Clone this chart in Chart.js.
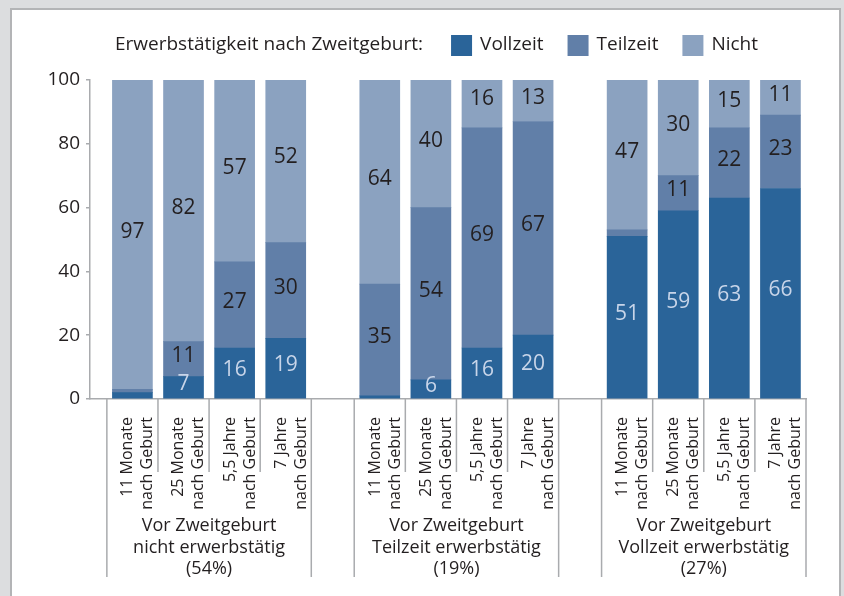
<!DOCTYPE html>
<html>
<head>
<meta charset="utf-8">
<script src="https://cdn.jsdelivr.net/npm/chart.js@4"></script>
<style>
  html, body { margin: 0; padding: 0; overflow: hidden; background: #dcdddf; }
  #wrap { width: 844px; height: 596px; position: relative; }
</style>
</head>
<body>
<div id="wrap"><canvas id="myChart"></canvas></div>
<script>
// Erwerbstätigkeit nach Zweitgeburt (in %)
const legendTitle = 'Erwerbstätigkeit nach Zweitgeburt:';
const seriesNames = ['Vollzeit', 'Teilzeit', 'Nicht'];
const tickLabels = [
    ['11 Monate', 'nach Geburt'],
    ['25 Monate', 'nach Geburt'],
    ['5,5 Jahre', 'nach Geburt'],
    ['7 Jahre', 'nach Geburt']
];
const groupLabels = [
    ['Vor Zweitgeburt', 'nicht erwerbstätig', '(54%)'],
    ['Vor Zweitgeburt', 'Teilzeit erwerbstätig', '(19%)'],
    ['Vor Zweitgeburt', 'Vollzeit erwerbstätig', '(27%)']
];
const vollzeit = [2, 7, 16, 19, 1, 6, 16, 20, 51, 59, 63, 66];
const teilzeit = [1, 11, 27, 30, 35, 54, 69, 67, 2, 11, 22, 23];
const nicht = [97, 82, 57, 52, 64, 40, 16, 13, 47, 30, 15, 11];
const yTicks = [0, 20, 40, 60, 80, 100];

const colors = ['#2a6499', '#617fa8', '#8ba2c0'];
const axisColor = '#a9abae';
const textColor = '#231f20';

// bar slots: 4 per group, groups spaced a bit wider than 4 slots
const GROUP_STEP = 4.84;
const LABEL_SHIFT = 0.09; // centres the two rotated label lines under the bar
const barX = [];
groupLabels.forEach((g, gi) => tickLabels.forEach((t, i) => barX.push(gi * GROUP_STEP + i)));

const toPoints = (arr) => arr.map((v, i) => ({ x: barX[i], y: v }));

Chart.defaults.font.family = "'Open Sans', sans-serif";
Chart.defaults.color = textColor;

const framePlugin = {
    id: 'frame',
    beforeDraw(chart) {
        const ctx = chart.ctx;
        ctx.save();
        ctx.fillStyle = '#dcdddf';
        ctx.fillRect(0, 0, chart.width, chart.height);
        ctx.fillStyle = '#ffffff';
        ctx.fillRect(10, 8, 831, chart.height);
        ctx.strokeStyle = '#b3b4b6';
        ctx.lineWidth = 2;
        ctx.beginPath();
        ctx.moveTo(11, chart.height);
        ctx.lineTo(11, 9);
        ctx.lineTo(840, 9);
        ctx.lineTo(840, chart.height);
        ctx.stroke();
        ctx.restore();
    }
};

const labelPlugin = {
    id: 'segLabels',
    afterDatasetsDraw(chart) {
        const ctx = chart.ctx;
        ctx.save();
        ctx.font = "21px 'Open Sans'";
        ctx.textAlign = 'center';
        ctx.textBaseline = 'middle';
        chart.data.datasets.forEach((ds, di) => {
            const meta = chart.getDatasetMeta(di);
            meta.data.forEach((bar, i) => {
                const v = ds.data[i].y;
                if (v < 5) return; // too small to label
                ctx.fillStyle = di === 0 ? '#c8d5e9' : textColor;
                ctx.fillText(String(v), bar.x, (bar.y + bar.base) / 2 - 3);
            });
        });
        ctx.restore();
    }
};

const groupPlugin = {
    id: 'groups',
    afterDraw(chart) {
        const ctx = chart.ctx;
        const x = chart.scales.x;
        const base = chart.chartArea.bottom;
        ctx.save();
        ctx.strokeStyle = axisColor;
        ctx.lineWidth = 1.5;
        ctx.fillStyle = textColor;
        ctx.textAlign = 'center';
        ctx.textBaseline = 'middle';
        ctx.font = "18px 'Open Sans'";
        groupLabels.forEach((lines, g) => {
            const first = barX[g * 4];
            const last = barX[g * 4 + 3];
            const left = x.getPixelForValue(first - 0.5);
            const right = x.getPixelForValue(last + 0.5);
            ctx.beginPath();
            ctx.moveTo(left, base); ctx.lineTo(left, base + 178);
            ctx.moveTo(right, base); ctx.lineTo(right, base + 178);
            for (let i = 1; i < 4; i++) {
                const sx = x.getPixelForValue(barX[g * 4 + i] - 0.5);
                ctx.moveTo(sx, base); ctx.lineTo(sx, base + 73);
            }
            ctx.stroke();
            const cx = (left + right) / 2;
            lines.forEach((t, k) => ctx.fillText(t, cx, base + 127 + k * 21.5));
        });

        // legend row
        ctx.font = "19px 'Open Sans'";
        ctx.textAlign = 'left';
        let lx = 115;
        const ly = 45;
        ctx.fillText(legendTitle, lx, ly);
        lx += ctx.measureText(legendTitle).width + 28;
        seriesNames.forEach((name, i) => {
            ctx.fillStyle = colors[i];
            ctx.fillRect(lx, ly - 10, 21, 21);
            ctx.fillStyle = textColor;
            ctx.fillText(name, lx + 29, ly);
            lx += 29 + ctx.measureText(name).width + 24;
        });
        ctx.restore();
    }
};

const chartData = {
    datasets: [
        { label: seriesNames[0], data: toPoints(vollzeit), backgroundColor: colors[0] },
        { label: seriesNames[1], data: toPoints(teilzeit), backgroundColor: colors[1] },
        { label: seriesNames[2], data: toPoints(nicht), backgroundColor: colors[2] }
    ]
};

const config = {
    type: 'bar',
    data: chartData,
    options: {
        responsive: true,
        maintainAspectRatio: false,
        animation: false,
        layout: { padding: { top: 80, right: 38, left: 0, bottom: 0 } },
        datasets: { bar: { barThickness: 40 } },
        plugins: {
            legend: { display: false },
            tooltip: { enabled: false }
        },
        scales: {
            x: {
                type: 'linear',
                stacked: true,
                offset: false,
                min: barX[0] - 0.83,
                max: barX[barX.length - 1] + 0.5,
                grid: { display: false },
                border: { color: axisColor, width: 1.5 },
                afterBuildTicks: (axis) => { axis.ticks = barX.map(v => ({ value: v - LABEL_SHIFT })); },
                afterFit: (axis) => { axis.height = 197; },
                ticks: {
                    autoSkip: false,
                    minRotation: 90,
                    maxRotation: 90,
                    padding: 10,
                    font: { size: 16, lineHeight: 1.25 },
                    callback: (v, i) => tickLabels[i % tickLabels.length]
                }
            },
            y: {
                stacked: true,
                min: 0,
                max: 100,
                afterBuildTicks: (axis) => { axis.ticks = yTicks.map(v => ({ value: v })); },
                afterFit: (axis) => { axis.width = 90; },
                grid: { drawOnChartArea: false, tickLength: 4, color: axisColor, lineWidth: 1.5 },
                border: { color: axisColor, width: 1.5 },
                ticks: { padding: 6, font: { size: 19 } }
            }
        }
    },
    plugins: [framePlugin, labelPlugin, groupPlugin]
};

const ctx = document.getElementById('myChart').getContext('2d');
new Chart(ctx, config);
</script>
</body>
</html>
